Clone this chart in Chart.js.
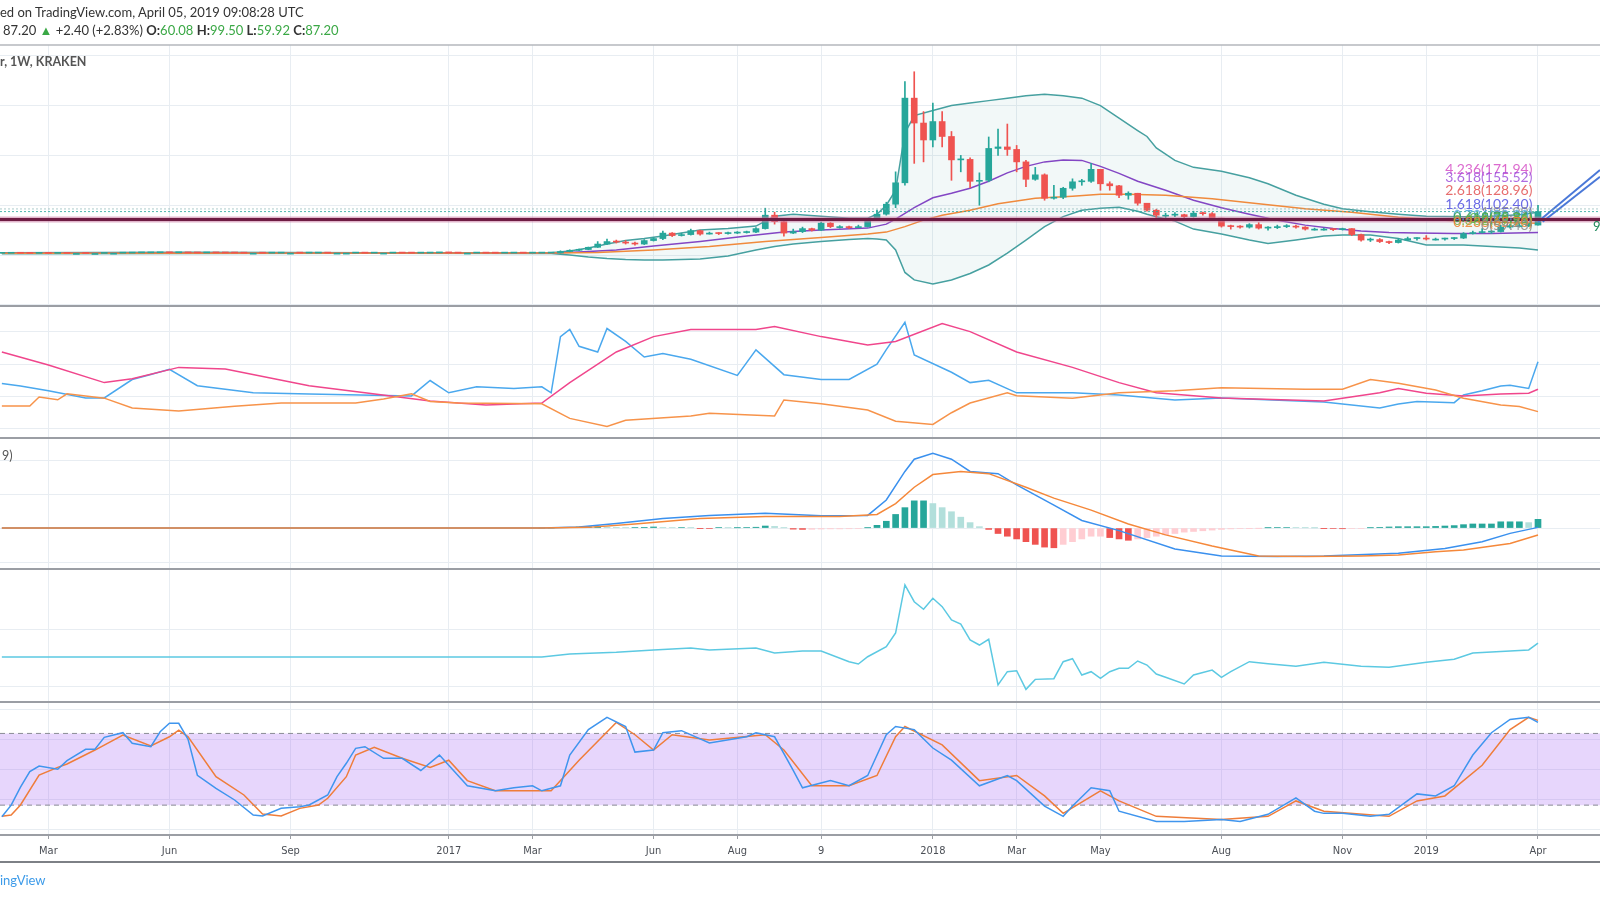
<!DOCTYPE html>
<html>
<head>
<meta charset="utf-8">
<script src="https://cdn.jsdelivr.net/npm/chart.js@4.4.1/dist/chart.umd.min.js"></script>
<style>
html, body { margin: 0; padding: 0; background: #fff; width: 1600px; height: 900px; overflow: hidden; }
#wrap { position: relative; width: 1600px; height: 900px; font-family: Lato, 'Open Sans', sans-serif; }
#chart { position: absolute; left: 0; top: 0; }
.t { position: absolute; white-space: nowrap; }
#h1 { left: 0; top: 4px; font-size: 13px; color: #333; }
#h2 { left: 3px; top: 22px; font-size: 13px; color: #333; }
.g { color: #3aa845; }
#leg1 { left: 0; top: 54px; font-size: 12.5px; font-weight: bold; color: #555; }
#leg2 { left: 2px; top: 448px; font-size: 12.5px; color: #555; }
#foot { left: 0; top: 872px; font-size: 13px; color: #3d9be9; }
#r9 { left: 1593px; top: 218px; font-size: 13px; color: #1f8a5c; }
</style>
</head>
<body>
<div id="wrap">
  <canvas id="chart" width="1600" height="900"></canvas>
  <div class="t" id="h1">ed on TradingView.com, April 05, 2019 09:08:28 UTC</div>
  <div class="t" id="h2">87.20 <span class="g">&#9650;</span> +2.40 (+2.83%) <b>O:</b><span class="g">60.08</span> <b>H:</b><span class="g">99.50</span> <b>L:</b><span class="g">59.92</span> <b>C:</b><span class="g">87.20</span></div>
  <div class="t" id="leg1">r, 1W, KRAKEN</div>
  <div class="t" id="leg2">9)</div>
  <div class="t" id="foot">ingView</div>
  <div class="t" id="r9">9</div>
</div>
<script>
// weekly bars, week 0 = Feb 1 2016, week 165 = Apr 1 2019
const tickWeeks = [5, 18, 31, 48, 57, 70, 79, 88, 100, 109, 118, 131, 144, 153, 165];
const tickLabels = ['Mar', 'Jun', 'Sep', '2017', 'Mar', 'Jun', 'Aug', '9', '2018', 'Mar', 'May', 'Aug', 'Nov', '2019', 'Apr'];

const firstOpen = 3.40;
const lastOpen = 60.08;
const closes = [
  3.45, 3.55, 3.45, 3.25, 3.35, 3.25, 3.30, 3.25, 3.25, 3.15,
  3.15, 3.70, 3.70, 3.85, 4.25, 4.30, 4.45, 4.80, 4.40, 5.00,
  4.20, 4.10, 4.25, 4.20, 4.05, 4.00, 3.75, 3.75, 3.70, 3.75,
  3.85, 3.85, 3.80, 3.85, 3.90, 3.80, 3.80, 3.80, 3.90, 3.75,
  3.85, 3.85, 3.95, 3.85, 3.80, 3.90, 4.25, 4.35, 4.20, 3.85,
  3.85, 3.90, 3.80, 3.75, 3.85, 3.90, 3.80, 3.85, 3.95, 4.10,
  7.0, 9.5, 11.0, 15.5, 22, 27, 26, 24, 22, 29,
  33, 44, 39, 41, 49, 42, 44, 43, 44, 45,
  46, 53, 80, 67, 44, 47, 53, 50, 64, 57,
  57, 55, 57, 70, 82, 102, 145, 315, 265, 231,
  268, 238, 191, 192, 148, 150, 214, 217, 212, 187,
  152, 161, 114, 116, 134, 147, 148, 172, 143, 139,
  120, 124, 104, 90, 80, 80, 81, 77, 84, 83,
  74, 58, 57, 56, 61, 54, 55, 57, 58, 56,
  52, 52, 52, 51, 53, 41, 30, 31, 27, 25,
  30, 33, 34, 32, 32, 33, 34, 43, 45, 46,
  47, 56, 59, 59, 60, 87.20
];
// wicks from week 60 on (earlier weeks are flat on this scale)
const wickStart = 60;
const highs = [
  8.5, 10.5, 12, 16, 27, 32, 30, 29, 26, 31,
  35, 48, 45, 44, 52, 50, 46, 45, 46, 47,
  48, 55, 94, 86, 68, 52, 56, 54, 66, 65,
  59, 58, 60, 73, 90, 106, 167, 348, 368, 288,
  305, 288, 248, 200, 195, 165, 237, 253, 263, 220,
  190, 176, 163, 140, 136, 153, 152, 184, 172, 147,
  140, 127, 124, 104, 92, 84, 85, 82, 88, 86,
  85, 74, 60, 59, 63, 65, 57, 60, 61, 60,
  57, 54, 54, 53, 54, 53, 42, 34, 33, 28,
  33, 36, 35, 39, 34, 34, 35, 45, 48, 53,
  49, 60, 62, 63, 63, 99.50
];
const lows = [
  3.9, 6.5, 8.8, 10.5, 15, 21, 24, 22, 20, 21,
  28, 31, 37, 38, 40, 40, 42, 41, 42, 43,
  44, 45, 52, 62, 38, 43, 45, 48, 49, 55,
  54, 53, 55, 56, 70, 80, 95, 140, 184, 187,
  217, 217, 150, 167, 135, 100, 147, 200, 200, 167,
  137, 150, 110, 112, 113, 130, 140, 146, 130, 130,
  115, 112, 100, 88, 75, 73, 77, 75, 76, 80,
  72, 56, 52, 54, 54, 52, 50, 53, 55, 54,
  50, 50, 50, 49, 50, 39, 28, 27, 25, 23,
  24, 29, 30, 30, 30, 30, 31, 33, 42, 44,
  43, 46, 54, 56, 57, 59.92
];

// overlays on price pane: [week, value]
const bbUpper = [[0,4.3],[20,5.6],[40,4.3],[59,4.6],[61,8],[63,14],[65,22],[67,29],[69,33],[71,38],[73,44],[75,50],[78,53],[81,58],[83,78],[85,82],[88,78],[91,74],[93,74],[94,82],[95,100],[96,130],[97,245],[98,280],[100,290],[102,300],[104,305],[106,310],[108,315],[110,320],[112,323],[114,320],[116,315],[118,300],[120,275],[122,250],[123,238],[124,215],[126,190],[128,176],[131,168],[134,155],[136,143],[139,120],[142,102],[144,93],[147,87],[150,82],[153,78],[157,77],[160,78],[163,81],[165,86]];
const bbLower = [[0,2.6],[20,3.2],[40,3.4],[59,3.0],[61,0],[63,-4],[65,-7],[67,-9],[69,-10],[71,-10],[73,-9],[75,-8],[78,-2],[81,10],[83,17],[85,22],[88,27],[91,31],[93,33],[94,32],[95,30],[96,10],[97,-35],[98,-50],[100,-58],[102,-50],[104,-37],[106,-20],[108,4],[110,30],[112,57],[114,77],[116,90],[118,94],[120,96],[122,88],[123,82],[124,77],[126,68],[128,52],[131,42],[134,30],[136,23],[139,30],[142,38],[144,40],[147,40],[150,33],[153,20],[157,20],[160,17],[163,14],[165,10]];
const maFast = [[0,3.6],[59,4],[62,6],[66,10],[70,18],[75,27],[80,38],[84,46],[88,50],[93,54],[95,62],[96,72],[98,95],[100,115],[102,124],[104,134],[106,148],[108,165],[110,178],[112,187],[114,191],[116,190],[118,178],[120,164],[122,148],[125,130],[128,110],[131,95],[134,82],[137,70],[140,60],[143,53],[146,48],[149,45],[152,44],[156,43],[160,43],[165,45]];
const maSlow = [[0,3.6],[59,3.9],[64,5],[70,10],[76,17],[82,27],[88,35],[93,42],[95,46],[97,57],[99,70],[101,80],[104,90],[107,103],[111,114],[115,118],[118,122],[121,122],[125,120],[130,113],[135,103],[140,93],[145,86],[150,76],[155,70],[160,66],[165,64]];
const supportLevel = 71.5;
const priceLines = [87.20, 92.5];
const channelA = [[165.0,66.9],[171.66,170.7]];
const channelB = [[165.5,66.9],[171.66,157.2]];
const fibRatios = ['4.236', '3.618', '2.618', '1.618', '1', '0.786', '0.618', '0.5', '0.382', '0.236', '0'];
const fibPrices = [171.94, 155.52, 128.96, 102.40, 85.99, 80.30, 75.84, 72.71, 69.58, 65.70, 59.43];
const fibColors = ['#d54fc6', '#a052dc', '#e35454', '#5050e0', '#8a8a8a', '#4aa3df', '#2f9e5a', '#4caf50', '#7cb342', '#f08030', '#8a8a8a'];

// DMI pane
const adx = [[0,47.5],[5,39.5],[11,28.6],[14,31],[19,38],[24,37],[33,26.7],[39,22.3],[46,17.3],[52,14.8],[58,16],[61,28.6],[66,47.5],[70,57],[74,61.4],[81,61.4],[83,63.3],[88,57],[93,51.9],[96,54],[101,65.1],[104,60.1],[109,47.5],[115,38],[120,28.6],[124,22.3],[131,19.1],[142,17.3],[148,22.3],[150,25],[153,22],[157,20.4],[161,21.6],[164,22],[165,24.5]];
const diPlus = [[0,28],[2,26.5],[5,23.6],[9,19.1],[11,19.1],[14,30.5],[16,33.6],[18,36.8],[21,26.7],[27,22.3],[33,21.5],[44,20.4],[46,29.9],[48,22.3],[51,26],[55,25],[58,26],[59,22.3],[60,57],[61,61.4],[62,51],[64,47.5],[65,62],[67,54],[69,44.4],[71,46.5],[74,43],[79,33],[81,48.8],[84,33.5],[88,30.5],[91,30.5],[94,40],[95,49],[97,65.8],[98,45.7],[102,35],[104,28.6],[106,30],[109,22.3],[115,22.3],[120,21],[126,17.9],[131,19.1],[142,16.7],[148,13],[150,15.4],[152,16.9],[156,16.2],[157,21],[159,23.6],[161,26.5],[162,27],[164,25],[165,41.5]];
const diMinus = [[0,14.2],[3,14.2],[4,19.7],[6,18],[7,21.7],[11,19],[14,12.9],[19,11],[25,14],[30,16],[38,16],[41,18.5],[44,21.7],[46,17],[49,16],[58,15.5],[61,6.5],[65,1.5],[67,5.3],[74,8],[76,9.7],[83,8],[84,17.9],[88,15.5],[93,11.7],[96,4.7],[100,2.8],[102,10],[104,16],[108,22.3],[109,20.5],[115,19],[120,22.3],[126,23.6],[131,25.4],[140,24.5],[144,24.5],[147,30.5],[150,28.2],[154,24],[157,19],[161,14.8],[163,13.8],[165,10.7]];

// MACD pane
const macdLine = [[0,0],[58,0],[62,0.8],[66,3.3],[71,7],[76,9.3],[82,10.8],[88,9],[93,9.3],[95,20.6],[97,41.6],[98,50.6],[100,55],[102,50.6],[104,41.6],[107,40],[109,31.8],[113,16.9],[116,5.6],[120,-1.9],[126,-15.4],[131,-20.6],[137,-21],[142,-20.6],[150,-18.6],[155,-15],[159,-10],[162,-3.9],[165,0.5]];
const signalLine = [[0,0],[58,0],[63,0.5],[68,3],[75,7],[82,8.5],[90,8.5],[94,10],[96,18],[98,30],[100,39.3],[103,41.6],[106,40],[110,30],[113,22],[117,13.2],[121,3],[125,-5],[130,-13.2],[135,-20.6],[140,-21],[146,-20.5],[150,-19.8],[154,-17.5],[157,-16.2],[162,-11.3],[165,-5.1]];
const histStart = 58;
const histValues = [
  0, 0, 0.3,
  0.5, 0.8, 1, 1, 0.8, 0.5, 0.3, 0.3, 0.5, 0.8,
  0.5, 0.3, 0.4, 0.2, -0.2, -0.3, 0.3, 0.2, 0.2, 0.3,
  0.6, 1.5, 1.2, 0.2, -0.8, -1, -0.9, -0.7, -0.6, -0.6,
  -0.5, -0.3, 0.2, 2, 5, 10, 15, 20, 20, 18,
  15, 12, 8, 4, 1, -1, -4, -6, -8, -10,
  -12, -14, -14.5, -12, -10, -8, -6, -6, -7, -8,
  -9, -8, -7, -6, -5, -4, -3, -2.5, -2, -1.5,
  -1, -0.6, -0.3, -0.2, -0.1, 0.2, 0.3, 0.4, 0.3, 0.2,
  0.1, -0.2, -0.4, -0.5, -0.4, -0.3, 0.2, 0.5, 0.8, 1,
  1, 1, 1, 1.2, 1.5, 1.8, 2.5, 3, 3, 3,
  4.6, 4.6, 4.6, 4, 6.4
];

// fourth pane
const cyanLine = [[0,25.9],[58,25.9],[61,28.5],[66,30],[70,32],[74,33.7],[76,32],[81,33.7],[83,29.3],[86,31],[88,31],[91,21.8],[92,19.8],[93,26.1],[95,34.8],[96,46.8],[97,88.6],[98,74],[99,67.4],[100,77],[101,69.7],[102,58.1],[103,54.6],[104,40.7],[105,36.3],[106,41.3],[107,1.5],[108,13.1],[109,13.9],[110,-2.3],[111,6.4],[113,7],[114,21.8],[115,24.4],[116,10.2],[117,13.1],[118,7.3],[119,13.1],[120,16],[121,16],[122,22.4],[123,18.9],[124,11.1],[125,8.2],[127,2.4],[128,10.2],[130,14.5],[131,8.2],[132,13.1],[134,21.8],[136,20],[139,17.8],[142,21.3],[146,17.8],[149,16.9],[153,21.3],[156,24],[158,29.3],[162,31.1],[164,32],[165,38]];

// Stoch RSI pane
const stochK = [[0,10.3],[1,20],[2,35],[3,48],[4,52.7],[6,50],[7,57.2],[9,66.7],[10,66.7],[11,76.7],[13,80.6],[14,71.7],[16,68.9],[17,81.4],[18,88.5],[19,88.5],[20,75],[21,45],[23,34],[25,24.3],[27,11.7],[28,10.9],[30,17.3],[32,18.7],[33,20.1],[35,28.5],[36,43.8],[37,55],[38,67.5],[39,68.9],[41,59.2],[43,59.2],[45,49],[47,61.9],[49,44.8],[50,36.2],[53,32],[55,34.5],[57,36.2],[58,32],[60,36.2],[61,61.9],[63,83.2],[65,93.5],[67,85.8],[68,64.4],[70,66.1],[71,80.6],[73,82.3],[76,72],[80,77.2],[81,80.6],[83,77.2],[85,49],[86,34.5],[89,40.5],[91,36.2],[93,44.8],[95,78.9],[96,85.8],[98,83.2],[100,67.8],[102,57.6],[105,36.2],[108,44.8],[109,40.5],[112,19.2],[114,10.6],[115,19.2],[117,34.5],[119,32],[120,14.9],[124,6.4],[127,6.4],[131,8],[133,6.4],[136,12.3],[139,26],[141,14.9],[142,13.1],[144,13.1],[147,10.6],[149,12.3],[152,29.4],[154,27.7],[156,36.2],[158,61.9],[160,80.6],[162,91.7],[164,93.5],[165,89.2]];
const stochD = [[0,10.7],[1,11.7],[2,20.1],[4,45.2],[6,51.6],[7,54.4],[10,66.1],[13,78.7],[16,69.5],[18,77.2],[19,82.8],[20,77.2],[23,43.8],[26,28.5],[28,12.6],[30,10.9],[32,17.3],[34,20.1],[35,25.7],[37,43.8],[38,61.9],[40,68.4],[43,59.2],[46,51.6],[48,57.6],[50,40.5],[53,32],[59,32],[62,57.6],[66,89.2],[68,78.9],[70,66.1],[72,78.9],[76,74.6],[82,78.9],[84,66.1],[87,36.2],[91,36.2],[94,44.8],[96,77.2],[97,85.8],[101,70.4],[105,40.5],[109,44.8],[112,27.7],[114,13.1],[118,32],[120,23.5],[124,10.6],[131,8],[136,10.6],[139,23.5],[142,14.9],[149,10.6],[152,23.5],[155,27.7],[159,53.3],[162,83.2],[164,93.5],[165,90.9]];
const stochBand = [80, 20];

const xMin = -0.2, xMax = 171.66;
const gridColor = '#e8edf2';
const up = '#26a69a', down = '#ef5350';

function pts(pairs) { return pairs.map(p => ({ x: p[0], y: p[1] })); }
function line(pairs, axis, color, extra) {
  return Object.assign({
    type: 'line', yAxisID: axis, data: pts(pairs), borderColor: color,
    borderWidth: 1.5, pointRadius: 0, tension: 0, fill: false, order: 5
  }, extra || {});
}
function hline(v) { return [[xMin, v], [xMax, v]]; }

const opens = closes.map((c, i) => i === 0 ? firstOpen : (i === closes.length - 1 ? lastOpen : closes[i - 1]));
const candleColor = closes.map((c, i) => c >= opens[i] ? up : down);

const datasets = [];
// price pane
datasets.push(line(bbUpper, 'price', '#46a0a0', { order: 8 }));
const upperIdx = datasets.length - 1;
datasets.push(line(bbLower, 'price', '#46a0a0', { order: 8, fill: { target: upperIdx }, backgroundColor: 'rgba(70,160,160,0.07)' }));
datasets.push(line(maSlow, 'price', '#f08a3c', { order: 6 }));
datasets.push(line(maFast, 'price', '#8346c4', { order: 6 }));
datasets.push({
  type: 'bar', yAxisID: 'price', grouped: false, barThickness: 1, order: 4,
  data: highs.map((h, k) => ({ x: wickStart + k, y: [lows[k], h] })),
  backgroundColor: highs.map((h, k) => candleColor[wickStart + k])
});
datasets.push({
  type: 'bar', yAxisID: 'price', grouped: false, barThickness: 6, minBarLength: 1, order: 3,
  data: closes.map((c, i) => ({ x: i, y: [opens[i], c] })),
  backgroundColor: candleColor
});
datasets.push(line(hline(supportLevel), 'price', 'rgba(200,120,160,0.55)', { borderWidth: 6, order: 2 }));
datasets.push(line(hline(supportLevel), 'price', '#6e1c43', { borderWidth: 3, order: 1 }));
datasets.push(line(hline(priceLines[0]), 'price', 'rgba(38,166,154,0.8)', { borderWidth: 1, borderDash: [2, 2], order: 1 }));
datasets.push(line(hline(priceLines[1]), 'price', 'rgba(120,170,170,0.6)', { borderWidth: 1, borderDash: [2, 2], order: 1 }));
datasets.push(line(channelA, 'price', '#4a78d8', { borderWidth: 2, order: 1 }));
datasets.push(line(channelB, 'price', '#4a78d8', { borderWidth: 2, order: 1 }));
// DMI pane
datasets.push(line(diMinus, 'dmi', '#f7934a'));
datasets.push(line(adx, 'dmi', '#f0468c'));
datasets.push(line(diPlus, 'dmi', '#4aa8ee'));
// MACD pane
datasets.push({
  type: 'bar', yAxisID: 'macd', grouped: false, barThickness: 6, order: 7,
  data: histValues.map((v, k) => ({ x: histStart + k, y: v })),
  backgroundColor: histValues.map((v, k) => {
    const prev = k > 0 ? histValues[k - 1] : 0;
    if (v >= 0) return v >= prev ? up : '#b2dfdb';
    return v < prev ? down : '#ffcdd2';
  })
});
datasets.push(line(signalLine, 'macd', '#f5883a'));
datasets.push(line(macdLine, 'macd', '#3a90ee'));
// fourth pane
datasets.push(line(cyanLine, 'cyan', '#5cc9e2'));
// Stoch RSI pane
datasets.push(line(hline(stochBand[0]), 'stoch', '#8a8d94', { borderWidth: 1, borderDash: [5, 4], order: 9 }));
const bandIdx = datasets.length - 1;
datasets.push(line(hline(stochBand[1]), 'stoch', '#8a8d94', { borderWidth: 1, borderDash: [5, 4], order: 9, fill: { target: bandIdx }, backgroundColor: 'rgba(160,90,245,0.25)' }));
datasets.push(line(stochD, 'stoch', '#ef7d3a'));
datasets.push(line(stochK, 'stoch', '#3f95ee', { order: 4 }));

function pane(weight, stackWeight, min, max, grid) {
  return {
    type: 'linear', position: 'right', stack: 'panes', stackWeight: stackWeight, weight: weight,
    min: min, max: max,
    ticks: { display: false },
    border: { display: false },
    grid: { color: gridColor, drawTicks: false },
    afterBuildTicks: s => { s.ticks = grid.map(v => ({ value: v })); }
  };
}

const paneLines = {
  id: 'paneLines',
  afterDraw(chart) {
    const ctx = chart.ctx;
    ctx.save();
    ctx.strokeStyle = '#9b9ea4';
    ctx.lineWidth = 2;
    ['price', 'dmi', 'macd', 'cyan'].forEach(id => {
      const y = Math.round(chart.scales[id].bottom);
      ctx.beginPath(); ctx.moveTo(0, y); ctx.lineTo(chart.width, y); ctx.stroke();
    });
    const top = Math.round(chart.chartArea.top);
    ctx.lineWidth = 1.5;
    ctx.strokeStyle = '#b4b7bc';
    ctx.beginPath(); ctx.moveTo(0, top); ctx.lineTo(chart.width, top); ctx.stroke();
    const bottom = Math.round(chart.scales.x.bottom);
    ctx.strokeStyle = '#7d8086';
    ctx.lineWidth = 2;
    ctx.beginPath(); ctx.moveTo(0, bottom); ctx.lineTo(chart.width, bottom); ctx.stroke();
    ctx.restore();
  }
};

const fibText = {
  id: 'fibText',
  afterDatasetsDraw(chart) {
    const ctx = chart.ctx, xs = chart.scales.x, ys = chart.scales.price;
    ctx.save();
    ctx.font = '14px Lato, sans-serif';
    ctx.textAlign = 'right';
    ctx.textBaseline = 'middle';
    ctx.globalAlpha = 0.85;
    const xr = xs.getPixelForValue(164.4);
    fibRatios.forEach((r, k) => {
      ctx.fillStyle = fibColors[k];
      ctx.fillText(r + '(' + fibPrices[k].toFixed(2) + ')', xr, ys.getPixelForValue(fibPrices[k]));
    });
    ctx.restore();
  }
};

new Chart(document.getElementById('chart'), {
  type: 'bar',
  data: { datasets: datasets },
  options: {
    responsive: false,
    animation: false,
    devicePixelRatio: 1,
    layout: { padding: { top: 45, bottom: 38, left: 0, right: 0 } },
    plugins: { legend: { display: false }, tooltip: { enabled: false } },
    scales: {
      x: {
        type: 'linear', position: 'bottom', min: xMin, max: xMax, offset: false,
        grid: { color: gridColor, offset: false, drawTicks: true, tickLength: 4, tickColor: '#9b9ea4' },
        border: { display: true, color: '#9b9ea4', width: 2 },
        ticks: {
          autoSkip: false, maxRotation: 0, padding: 6, color: '#4b4f56',
          font: { size: 11, family: "'Liberation Sans Narrow', 'DejaVu Sans Condensed', Arial, sans-serif" },
          callback: v => tickLabels[tickWeeks.indexOf(v)]
        },
        afterBuildTicks: s => { s.ticks = tickWeeks.map(v => ({ value: v })); },
        afterFit: s => { s.height = 27; }
      },
      price: pane(1, 261, -102.4, 421.7, [-100, 0, 100, 200, 300, 400]),
      dmi: pane(2, 132, -5.6, 75.9, [0, 20, 40, 60]),
      macd: pane(3, 131, -30.1, 66.2, [-25, 0, 25, 50]),
      cyan: pane(4, 133, -13.3, 102.5, [0, 50]),
      stoch: pane(5, 133, -5.0, 106.3, [0, 25, 50, 75, 100])
    }
  },
  plugins: [paneLines, fibText]
});
</script>
</body>
</html>
